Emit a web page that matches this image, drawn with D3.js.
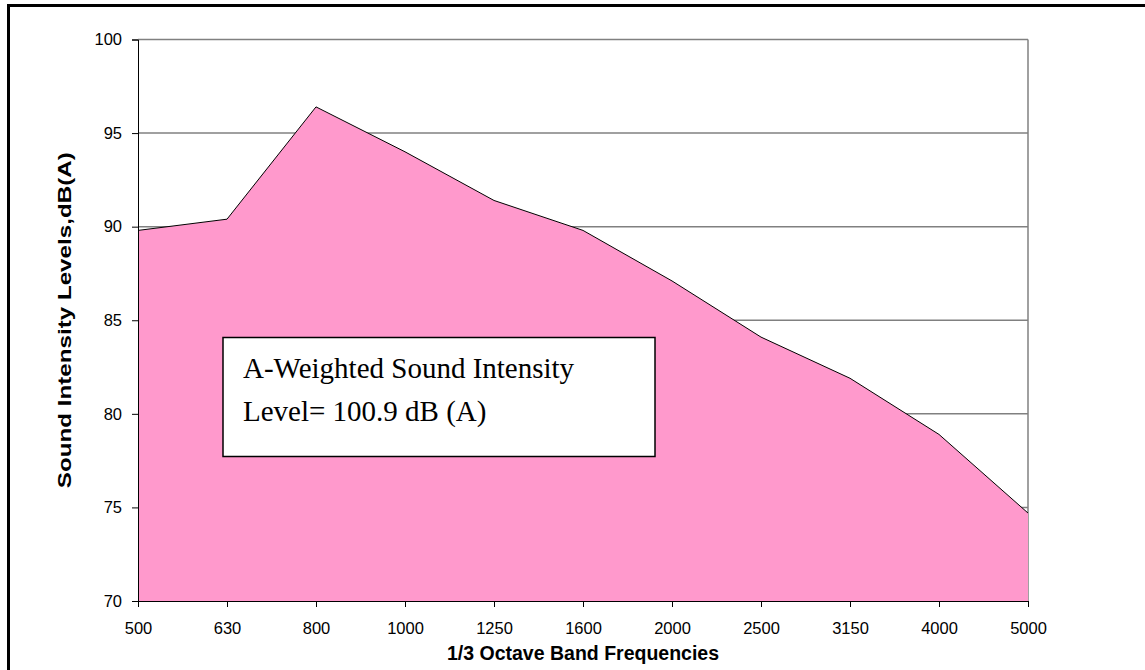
<!DOCTYPE html>
<html>
<head>
<meta charset="utf-8">
<script src="https://cdn.jsdelivr.net/npm/d3@7"></script>
<style>
    body { margin: 0; background: #fff; }
    svg { display: block; }
</style>
</head>
<body>
<div id="chart"></div>
<script>
// 1/3 octave band frequencies and levels
const frequencies = ["500", "630", "800", "1000", "1250", "1600", "2000", "2500", "3150", "4000", "5000"];
const levels = [89.8, 90.4, 96.4, 94.0, 91.4, 89.8, 87.1, 84.1, 81.9, 78.9, 74.7];
const yTicks = [70, 75, 80, 85, 90, 95, 100];
const noteLines = ["A-Weighted Sound Intensity", "Level= 100.9 dB (A)"];

const config = {
    width: 1145,
    height: 670,
    margin: { top: 39.5, left: 138, right: 117, bottom: 69 },
    fill: "#ff99cc",
    sans: "'Liberation Sans', Arial, sans-serif",
    serif: "'Liberation Serif', 'Times New Roman', serif"
};

const innerW = config.width - config.margin.left - config.margin.right;
const innerH = config.height - config.margin.top - config.margin.bottom;

const svg = d3.select("#chart").append("svg")
    .attr("width", config.width)
    .attr("height", config.height);

// outer frame
svg.append("rect")
    .attr("x", 8.5).attr("y", 5.5)
    .attr("width", 1200).attr("height", 800)
    .attr("fill", "none")
    .attr("stroke", "#000")
    .attr("stroke-width", 3);

const chart = svg.append("g")
    .attr("transform", `translate(${config.margin.left},${config.margin.top})`);

// scales
const xScale = d3.scalePoint()
    .domain(frequencies)
    .range([0, innerW]);

const yScale = d3.scaleLinear()
    .domain([70, 100])
    .range([innerH, 0]);

// gridlines
chart.selectAll(".grid")
    .data(yTicks.filter(d => d > 70))
    .join("line")
        .attr("class", "grid")
        .attr("x1", 0).attr("x2", innerW)
        .attr("y1", d => yScale(d)).attr("y2", d => yScale(d))
        .attr("stroke", "#808080")
        .attr("stroke-width", 1.5);

// right border of plot area
chart.append("line")
    .attr("x1", innerW).attr("x2", innerW)
    .attr("y1", 0).attr("y2", innerH)
    .attr("stroke", "#808080")
    .attr("stroke-width", 1.5);

// area
const data = frequencies.map((f, i) => ({ f: f, v: levels[i] }));
const area = d3.area()
    .x(d => xScale(d.f))
    .y0(innerH)
    .y1(d => yScale(d.v));
const line = d3.line()
    .x(d => xScale(d.f))
    .y(d => yScale(d.v));

chart.append("path")
    .datum(data)
    .attr("d", area)
    .attr("fill", config.fill);

chart.append("path")
    .datum(data)
    .attr("d", line)
    .attr("fill", "none")
    .attr("stroke", "#000")
    .attr("stroke-width", 1);

// axes
const xAxis = d3.axisBottom(xScale).tickSizeOuter(0).tickSize(6).tickPadding(15);
const yAxis = d3.axisLeft(yScale).tickValues(yTicks).tickSizeOuter(0).tickSize(6).tickPadding(10);

const xAxisG = chart.append("g")
    .attr("transform", `translate(0,${innerH})`)
    .call(xAxis);
const yAxisG = chart.append("g").call(yAxis);

[xAxisG, yAxisG].forEach(g => {
    g.selectAll("path, line").attr("stroke", "#000");
    g.selectAll("text")
        .attr("fill", "#000")
        .style("font-family", config.sans)
        .style("font-size", "16.5px");
});

// axis titles
chart.append("text")
    .attr("x", innerW / 2)
    .attr("y", innerH + 59)
    .attr("text-anchor", "middle")
    .style("font-family", config.sans)
    .style("font-size", "19.5px")
    .style("font-weight", "bold")
    .text("1/3 Octave Band Frequencies");

chart.append("text")
    .attr("transform", `translate(-67,${innerH / 2}) rotate(-90)`)
    .attr("text-anchor", "middle")
    .attr("textLength", 336)
    .attr("lengthAdjust", "spacingAndGlyphs")
    .style("font-family", config.sans)
    .style("font-size", "18px")
    .style("font-weight", "bold")
    .text("Sound Intensity Levels,dB(A)");

// annotation box
const note = svg.append("g").attr("transform", "translate(223,337.5)");
note.append("rect")
    .attr("width", 432).attr("height", 119)
    .attr("fill", "#fff")
    .attr("stroke", "#000")
    .attr("stroke-width", 1.5);
note.selectAll("text")
    .data(noteLines)
    .join("text")
        .attr("x", 20)
        .attr("y", (d, i) => 40 + i * 43)
        .style("font-family", config.serif)
        .style("font-size", "29px")
        .attr("fill", "#000")
        .text(d => d);
</script>
</body>
</html>
